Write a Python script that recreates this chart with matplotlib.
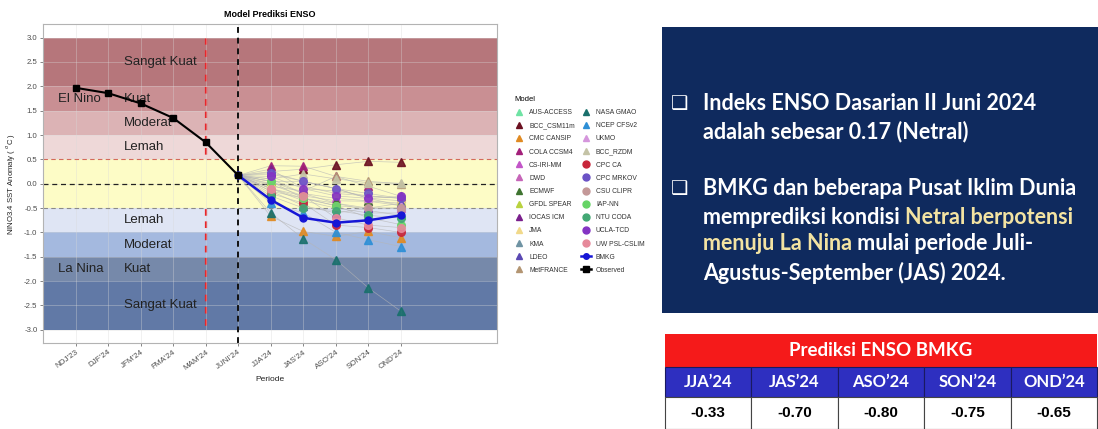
import matplotlib.pyplot as plt
from matplotlib.patches import Rectangle
from matplotlib.lines import Line2D

W, H = 1098, 429

periods = ["NDJ'23", "DJF'24", "JFM'24", "FMA'24", "MAM'24", "JUNI'24",
           "JJA'24", "JAS'24", "ASO'24", "SON'24", "OND'24"]
observed = [1.97, 1.86, 1.65, 1.35, 0.85, 0.17]
bmkg = [-0.33, -0.70, -0.80, -0.75, -0.65]
forecast_periods = ["JJA'24", "JAS'24", "ASO'24", "SON'24", "OND'24"]

model_names = ["AUS-ACCESS", "BCC_CSM11m", "CMC CANSIP", "COLA CCSM4", "CS-IRI-MM",
               "DWD", "ECMWF", "GFDL SPEAR", "IOCAS ICM", "JMA", "KMA", "LDEO",
               "MetFRANCE", "NASA GMAO", "NCEP CFSv2", "UKMO", "BCC_RZDM", "CPC CA",
               "CPC MRKOV", "CSU CLIPR", "IAP-NN", "NTU CODA", "UCLA-TCD", "UW PSL-CSLIM"]
# forecasts for JJA, JAS, ASO, SON, OND
model_values = [
    [0.05, -0.20, -0.40, -0.55, -0.65],
    [0.25, 0.30, 0.39, 0.46, 0.44],
    [-0.67, -0.98, -1.08, -0.98, -1.11],
    [0.37, 0.36, 0.15, -0.05, -0.26],
    [0.10, -0.20, -0.30, -0.35, -0.40],
    [-0.10, -0.30, -0.40, -0.50, -0.50],
    [-0.02, -0.25, -0.35, -0.36, -0.45],
    [0.05, 0.05, -0.10, -0.30, -0.35],
    [0.30, -0.10, -0.15, -0.25, -0.30],
    [0.00, -0.05, -0.20, -0.25, -0.30],
    [-0.10, -0.35, -0.50, -0.60, -0.60],
    [-0.15, -0.45, -0.60, -0.50, -0.40],
    [-0.05, -0.15, 0.15, 0.05, 0.00],
    [-0.60, -1.13, -1.56, -2.14, -2.62],
    [-0.40, -0.60, -1.00, -1.15, -1.29],
    [0.20, 0.05, -0.10, -0.30, -0.45],
    [0.10, 0.20, 0.10, 0.02, 0.01],
    [-0.20, -0.40, -0.85, -0.90, -1.00],
    [0.23, 0.05, -0.10, -0.20, -0.30],
    [-0.15, -0.30, -0.45, -0.50, -0.50],
    [0.05, -0.30, -0.45, -0.70, -0.84],
    [-0.25, -0.50, -0.55, -0.65, -0.70],
    [0.15, -0.10, -0.25, -0.30, -0.26],
    [-0.10, -0.25, -0.70, -0.85, -0.90],
]
model_colors = ["#6fe3a4", "#6b1020", "#e08a22", "#a3207a", "#c255c8", "#c665b8",
                "#3f7430", "#b9d23f", "#7a1f8c", "#f1d98a", "#6f93a3", "#5a48b3",
                "#b39572", "#19706c", "#2d8fd6", "#d596dc", "#c4c3a6", "#c8263a",
                "#6b52c6", "#c49898", "#66d466", "#43a874", "#8434c4", "#e6899a"]
model_markers = ["^"] * 17 + ["o"] * 7

# ENSO strength bands: (low, high, colour)
bands = [(2.0, 3.0, "#b6767b"), (1.5, 2.0, "#c98f93"), (1.0, 1.5, "#dcb3b5"),
         (0.5, 1.0, "#eed8d8"), (-0.5, 0.5, "#fdfcc6"), (-1.0, -0.5, "#dfe5f4"),
         (-1.5, -1.0, "#a4b9df"), (-2.0, -1.5, "#7689aa"), (-3.0, -2.0, "#6179a6")]
band_labels = [("Sangat Kuat", 2.5), ("Kuat", 1.75), ("Moderat", 1.25), ("Lemah", 0.75),
               ("Lemah", -0.75), ("Moderat", -1.25), ("Kuat", -1.75), ("Sangat Kuat", -2.5)]

table_values = bmkg

plt.rcParams['font.family'] = ['Liberation Sans', 'DejaVu Sans']

fig = plt.figure(figsize=(W / 100, H / 100), dpi=100)
ax = fig.add_axes([43 / W, 1 - 343 / H, 454 / W, 319 / H])

xi = {p: i for i, p in enumerate(periods)}

for lo, hi, c in bands:
    ax.axhspan(lo, hi, color=c, lw=0, zorder=0.5 if lo == -0.5 else 0.3)

for txt, y in band_labels:
    ax.text(1.5, y, txt, fontsize=9.5, color="#222222", va="center", ha="left", zorder=3)
ax.text(-0.55, 1.75, "El Nino", fontsize=9.5, color="#222222", va="center", zorder=3)
ax.text(-0.55, -1.75, "La Nina", fontsize=9.5, color="#222222", va="center", zorder=3)

ax.axhline(0.5, color="#d46a5a", ls=(0, (4, 3)), lw=0.8, zorder=1.6)
ax.axhline(0.0, color="#222222", ls=(0, (4, 3)), lw=0.9, zorder=1.6)
ax.axhline(-0.5, color="#8a8a8a", ls=(0, (4, 3)), lw=0.8, zorder=1.6)
mam = xi["MAM'24"]
ax.plot([mam, mam], [3.0, -3.0], color="#e8262b", ls=(0, (3, 2.5)), lw=1.6, zorder=0.4)
ax.axvline(xi["JUNI'24"], color="#111111", ls=(0, (3, 2.5)), lw=1.4, zorder=1.7)

# model plumes start from the last observed value
fx = [xi[p] for p in forecast_periods]
start_x = xi["JUNI'24"]
handles = []
for name, vals, c, m in zip(model_names, model_values, model_colors, model_markers):
    ax.plot([start_x] + fx, [observed[-1]] + vals, color="#b5b5b5", lw=0.5, alpha=0.7, zorder=2)
    ax.plot(fx, vals, ls="none", marker=m, ms=5.5, color=c, mec=c, alpha=0.9, zorder=3)
    handles.append(Line2D([], [], ls="none", marker=m, ms=5, color=c, label=name))

ax.plot([start_x] + fx, [observed[-1]] + bmkg, color="#1616d6", lw=1.8, marker="o", ms=5, zorder=4)
ax.plot(range(len(observed)), observed, color="black", lw=1.5, marker="s", ms=4.5, zorder=5)
handles.append(Line2D([], [], color="#1616d6", lw=1.8, marker="o", ms=4, label="BMKG"))
handles.append(Line2D([], [], color="black", lw=1.8, marker="s", ms=4, label="Observed"))

ax.set_xlim(-1.0, 12.95)
ax.set_ylim(-3.27, 3.28)
ax.set_xticks(range(len(periods)))
ax.set_xticklabels(periods, rotation=36, ha="right", rotation_mode="anchor", fontsize=5.8, color="#4d4d4d")
ax.set_yticks([v / 2 for v in range(-6, 7)])
ax.set_yticklabels(["%.1f" % (v / 2) for v in range(-6, 7)], fontsize=5.6, color="#4d4d4d")
ax.tick_params(length=2, width=0.5, color="#555555", pad=2)
ax.grid(True, color="#d9d9d9", lw=0.5, alpha=0.5)
ax.set_axisbelow("line")
for s in ax.spines.values():
    s.set_color("#b3b3b3")
    s.set_linewidth(0.8)
ax.set_xlabel("Periode", fontsize=6, color="#222222", labelpad=3)
ax.set_ylabel("NINO3.4 SST Anomaly ( $^{o}$C )", fontsize=5.6, color="#222222", labelpad=5)
ax.set_title("Model Prediksi ENSO", fontsize=6.5, fontweight="bold", pad=5)

leg = fig.legend(handles=handles, ncol=2, loc="upper left", bbox_to_anchor=(508 / W, 1 - 90 / H),
                 title="Model", fontsize=4.9, title_fontsize=5.5, frameon=False, alignment="left",
                 labelspacing=0.9, handlelength=1.4, handletextpad=0.8, columnspacing=0.9)
for t in leg.get_texts():
    t.set_color("#333333")


def px(x, y):
    return x / W, 1 - y / H


# summary panel
fig.add_artist(Rectangle(px(662, 313), (1098 - 662) / W, (313 - 27) / H,
                         transform=fig.transFigure, color="#0f2a5e", lw=0))

body_size = 15.5
lines = [
    (103, True, [("Indeks ENSO Dasarian II Juni 2024", "white")]),
    (132, False, [("adalah sebesar 0.17 (Netral)", "white")]),
    (188, True, [("BMKG dan beberapa Pusat Iklim Dunia", "white")]),
    (217, False, [("memprediksi kondisi ", "white"), ("Netral berpotensi", "#f3e3a2")]),
    (244, False, [("menuju La Nina", "#f3e3a2"), (" mulai periode Juli-", "white")]),
    (273, False, [("Agustus-September (JAS) 2024.", "white")]),
]
for y, box, parts in lines:
    if box:
        fig.text(*px(671, y), "\u2751", color="white", fontsize=14, va="center",
                 family="DejaVu Sans")
    prev = None
    for txt, c in parts:
        if prev is None:
            prev = fig.text(*px(703, y), txt, color=c, fontsize=body_size, fontweight="bold",
                            va="center", family="Lato")
        else:
            # each coloured run starts where the previous one ended
            prev = fig.add_artist(plt.Annotation(txt, xy=(1, 0), xycoords=prev, va="bottom",
                                                 ha="left", color=c, fontsize=body_size,
                                                 fontweight="bold", family="Lato"))

# BMKG table
tx0, tx1 = 665, 1097
fig.add_artist(Rectangle(px(tx0, 367), (tx1 - tx0) / W, 33 / H, transform=fig.transFigure,
                         color="#f51a1a", lw=0))
fig.text(*px((tx0 + tx1) / 2, 351), "Prediksi ENSO BMKG", color="white", fontsize=13.5,
         fontweight="bold", ha="center", va="center", family="Lato")
cw = (tx1 - tx0) / len(forecast_periods)
for i, (p, v) in enumerate(zip(forecast_periods, table_values)):
    x0 = tx0 + i * cw
    fig.add_artist(Rectangle(px(x0, 397), cw / W, 30 / H, transform=fig.transFigure,
                             facecolor="#2e2fc0", edgecolor="#1a1a60", lw=0.8))
    fig.add_artist(Rectangle(px(x0, 429), cw / W, 32 / H, transform=fig.transFigure,
                             facecolor="white", edgecolor="#444444", lw=0.8))
    fig.text(*px(x0 + cw / 2, 382), p.replace("'", "\u2019"), color="white", fontsize=12,
             fontweight="bold", ha="center", va="center", family="Lato")
    fig.text(*px(x0 + cw / 2, 413), "%.2f" % v, color="black", fontsize=11,
             fontweight="bold", ha="center", va="center")

fig.savefig("out.png", dpi=100)
